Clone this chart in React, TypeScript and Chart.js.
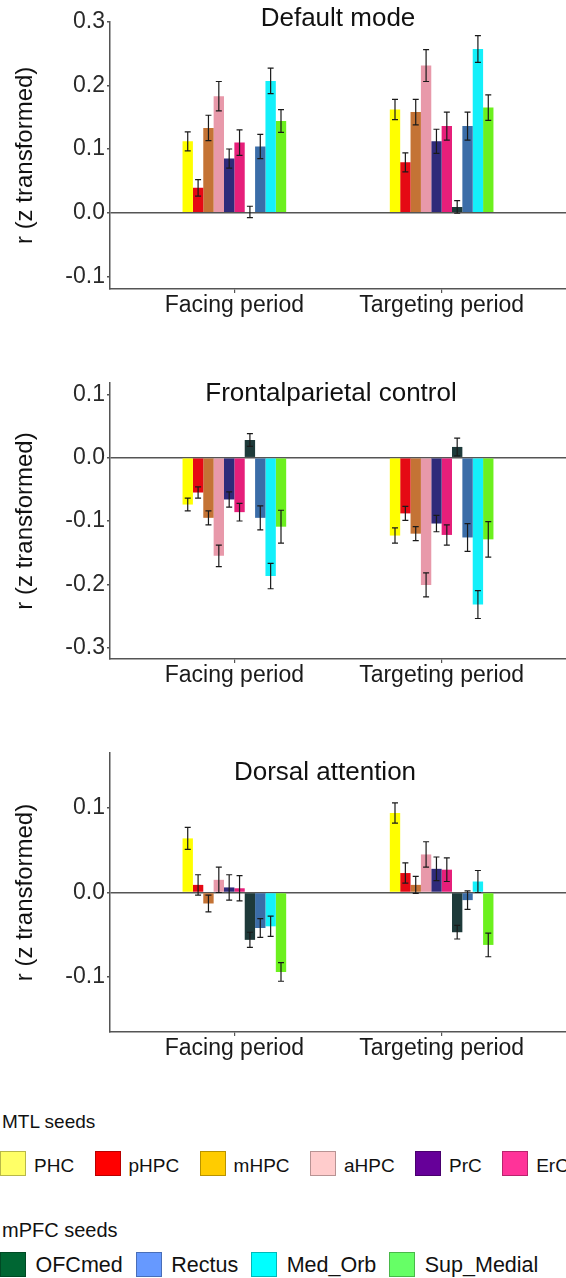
import { useEffect, useRef } from 'react';
import { Chart, registerables } from 'chart.js';

Chart.register(...registerables);

const FONT = '"Liberation Sans", Arial, Helvetica, sans-serif';
Chart.defaults.font.family = FONT;

// ---------- data ----------
const categories = ['Facing period', 'Targeting period'];
const seeds = ['PHC', 'pHPC', 'mHPC', 'aHPC', 'PrC', 'ErC', 'OFCmed', 'Rectus', 'Med_Orb', 'Sup_Medial'];
const barColors = ['#FFFF00', '#E50914', '#C47335', '#E899AA', '#2F2A7A', '#E61F7A', '#1E3A3A', '#3B6DA8', '#14F0FA', '#6CF01E'];

const mtlSeeds = ['PHC', 'pHPC', 'mHPC', 'aHPC', 'PrC', 'ErC'];
const mtlColors = ['#FFFF66', '#FF0000', '#FFCC00', '#FFCCCC', '#660099', '#FF3399'];
const mpfcSeeds = ['OFCmed', 'Rectus', 'Med_Orb', 'Sup_Medial'];
const mpfcColors = ['#006633', '#6699FF', '#00FFFF', '#66FF66'];

// Default mode
const dmFacing = [0.112, 0.039, 0.133, 0.183, 0.085, 0.110, 0.001, 0.104, 0.207, 0.144];
const dmFacingErr = [0.015, 0.013, 0.020, 0.023, 0.015, 0.020, 0.009, 0.019, 0.020, 0.018];
const dmTargeting = [0.162, 0.079, 0.158, 0.231, 0.112, 0.136, 0.009, 0.136, 0.257, 0.165];
const dmTargetingErr = [0.016, 0.015, 0.020, 0.025, 0.019, 0.022, 0.010, 0.022, 0.021, 0.020];
const dmTicks = [-0.1, 0, 0.1, 0.2, 0.3];

// Frontalparietal control
const fpFacing = [-0.074, -0.055, -0.095, -0.155, -0.066, -0.086, 0.028, -0.095, -0.187, -0.109];
const fpFacingErr = [0.010, 0.009, 0.011, 0.017, 0.012, 0.014, 0.010, 0.019, 0.020, 0.026];
const fpTargeting = [-0.123, -0.088, -0.120, -0.201, -0.104, -0.122, 0.017, -0.126, -0.232, -0.129];
const fpTargetingErr = [0.012, 0.011, 0.011, 0.019, 0.013, 0.016, 0.014, 0.022, 0.022, 0.028];
const fpTicks = [-0.3, -0.2, -0.1, 0, 0.1];

// Dorsal attention
const daFacing = [0.064, 0.009, -0.013, 0.015, 0.006, 0.005, -0.056, -0.042, -0.040, -0.094];
const daFacingErr = [0.013, 0.012, 0.010, 0.015, 0.015, 0.015, 0.009, 0.011, 0.012, 0.011];
const daTargeting = [0.094, 0.023, 0.009, 0.045, 0.028, 0.027, -0.047, -0.009, 0.013, -0.062];
const daTargetingErr = [0.012, 0.012, 0.010, 0.015, 0.014, 0.014, 0.008, 0.011, 0.013, 0.014];
const daTicks = [-0.1, 0, 0.1];

// ---------- layout / style ----------
const AXIS = '#555555';
const W = 566;

const panels = [
  { title: 'Default mode', facing: dmFacing, facingErr: dmFacingErr, targeting: dmTargeting, targetingErr: dmTargetingErr,
    ticks: dmTicks, yMin: -0.12, yMax: 0.3, top: 0, height: 330, padTop: 21.7, titleDX: 0, titleDY: -2.7 },
  { title: 'Frontalparietal control', facing: fpFacing, facingErr: fpFacingErr, targeting: fpTargeting, targetingErr: fpTargetingErr,
    ticks: fpTicks, yMin: -0.318, yMax: 0.118, top: 330, height: 370, padTop: 53, titleDX: -7, titleDY: 11 },
  { title: 'Dorsal attention', facing: daFacing, facingErr: daFacingErr, targeting: daTargeting, targetingErr: daTargetingErr,
    ticks: daTicks, yMin: -0.165, yMax: 0.165, top: 700, height: 373, padTop: 53, titleDX: -13, titleDY: 19.5 },
];

const errorBarPlugin = {
  id: 'errorBars',
  afterDatasetsDraw(chart: any) {
    const { ctx } = chart;
    const yScale = chart.scales.y;
    ctx.save();
    ctx.strokeStyle = '#1a1a1a';
    ctx.lineWidth = 1.2;
    chart.data.datasets.forEach((ds: any, i: number) => {
      const meta = chart.getDatasetMeta(i);
      meta.data.forEach((bar: any, j: number) => {
        const v = ds.data[j].y;
        const e = ds.errors[j];
        const x = bar.x;
        const y1 = yScale.getPixelForValue(v + e);
        const y2 = yScale.getPixelForValue(v - e);
        ctx.beginPath();
        ctx.moveTo(x, y1);
        ctx.lineTo(x, y2);
        ctx.moveTo(x - 3, y1);
        ctx.lineTo(x + 3, y1);
        ctx.moveTo(x - 3, y2);
        ctx.lineTo(x + 3, y2);
        ctx.stroke();
      });
    });
    ctx.restore();
  },
};

const panelTitlePlugin = {
  id: 'panelTitle',
  afterDraw(chart: any, _args: any, opts: any) {
    const { ctx, chartArea } = chart;
    ctx.save();
    ctx.font = `26px ${FONT}`;
    ctx.fillStyle = '#111111';
    ctx.textAlign = 'center';
    ctx.textBaseline = 'middle';
    ctx.fillText(opts.text, (chartArea.left + chartArea.right) / 2 + opts.dx, chartArea.top + opts.dy);
    ctx.restore();
  },
};

function Panel({ p }: { p: any }) {
  const ref = useRef<HTMLCanvasElement | null>(null);
  useEffect(() => {
    const canvas = ref.current;
    if (!canvas) return;
    const chart = new Chart(canvas, {
      type: 'bar',
      data: {
        datasets: seeds.map((s, i) => ({
          label: s,
          data: [
            { x: 1, y: p.facing[i] },
            { x: 2, y: p.targeting[i] },
          ],
          errors: [p.facingErr[i], p.targetingErr[i]],
          backgroundColor: barColors[i],
          borderWidth: 0,
          categoryPercentage: 0.5,
          barPercentage: 1.0,
        })) as any,
      },
      options: {
        animation: false,
        responsive: false,
        maintainAspectRatio: false,
        devicePixelRatio: 1,
        layout: { padding: { top: p.padTop, right: 0, bottom: 0, left: 0 } },
        plugins: {
          legend: { display: false },
          tooltip: { enabled: false },
          title: { display: false },
          panelTitle: { text: p.title, dx: p.titleDX, dy: p.titleDY },
        } as any,
        scales: {
          x: {
            type: 'linear',
            min: 0.4,
            max: 2.6,
            offset: false,
            afterBuildTicks: (s: any) => {
              s.ticks = categories.map((_, i) => ({ value: i + 1 }));
            },
            afterFit: (s: any) => {
              s.height = 41;
            },
            ticks: {
              callback: (v: any) => categories[Math.round(v) - 1] ?? '',
              font: { size: 23, family: FONT, lineHeight: 1 },
              color: '#1a1a1a',
              padding: 1,
              autoSkip: false,
              maxRotation: 0,
            },
            grid: { offset: false, color: 'rgba(0,0,0,0)', tickColor: AXIS, tickLength: 4, lineWidth: 1.2 },
            border: { display: true, color: AXIS, width: 1.5 },
          },
          y: {
            type: 'linear',
            min: p.yMin,
            max: p.yMax,
            afterBuildTicks: (s: any) => {
              s.ticks = p.ticks.map((v: number) => ({ value: v }));
            },
            afterFit: (s: any) => {
              s.width = 110;
            },
            ticks: {
              callback: (v: any) => Number(v).toFixed(1),
              font: { size: 23, family: FONT },
              color: '#2a2a2a',
              padding: 2,
            },
            grid: {
              color: (c: any) => (c.tick && Math.abs(c.tick.value) < 1e-9 ? AXIS : 'rgba(0,0,0,0)'),
              lineWidth: 1.5,
              tickColor: AXIS,
              tickLength: 3,
            },
            border: { display: true, color: AXIS, width: 1.5 },
            title: {
              display: true,
              text: 'r (z transformed)',
              font: { size: 24, family: FONT },
              color: '#111111',
              padding: { top: 11, bottom: 0 },
            },
          },
        },
      } as any,
      plugins: [errorBarPlugin, panelTitlePlugin],
    });
    return () => chart.destroy();
  }, [p]);
  return (
    <canvas
      ref={ref}
      width={W}
      height={p.height}
      style={{ position: 'absolute', left: 0, top: p.top, width: W, height: p.height }}
    />
  );
}

function LegendRow({ names, colors, top, fontSize, textGap, itemGap, textShift }: any) {
  return (
    <div style={{ position: 'absolute', left: 0, top, display: 'flex', alignItems: 'flex-start', whiteSpace: 'nowrap' }}>
      {names.map((n: string, i: number) => (
        <div key={n} style={{ display: 'flex', alignItems: 'flex-start', marginRight: itemGap }}>
          <div
            style={{
              width: 26,
              height: 25,
              boxSizing: 'border-box',
              background: colors[i],
              border: '1px solid rgba(0,0,0,0.28)',
              marginRight: textGap,
            }}
          />
          <span style={{ fontSize, lineHeight: '25px', position: 'relative', top: textShift, color: '#111' }}>{n}</span>
        </div>
      ))}
    </div>
  );
}

export default function App() {
  return (
    <div
      style={{
        position: 'absolute',
        left: 0,
        top: 0,
        width: W,
        height: 1278,
        overflow: 'hidden',
        background: '#ffffff',
        fontFamily: FONT,
      }}
    >
      {panels.map((p) => (
        <Panel key={p.title} p={p} />
      ))}
      <div style={{ position: 'absolute', left: 2, top: 1111.9, fontSize: 19, lineHeight: '19px', color: '#111' }}>MTL seeds</div>
      <LegendRow names={mtlSeeds} colors={mtlColors} top={1151} fontSize={19} textGap={8} itemGap={20.4} textShift={2} />
      <div style={{ position: 'absolute', left: 2, top: 1220, fontSize: 20, lineHeight: '20px', color: '#111' }}>mPFC seeds</div>
      <LegendRow names={mpfcSeeds} colors={mpfcColors} top={1252} fontSize={21.5} textGap={9.5} itemGap={13} textShift={1} />
    </div>
  );
}
